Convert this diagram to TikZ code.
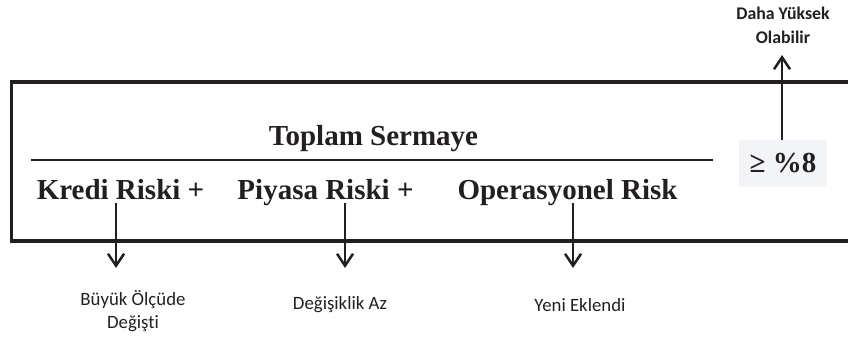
\documentclass[tikz,border=0pt]{standalone}
\usepackage{fontspec}
\setmainfont{Liberation Serif}
\newfontfamily\labelfont[Ligatures=NoCommon]{Carlito}
\usetikzlibrary{arrows.meta}
\definecolor{ink}{RGB}{35,31,32}
\definecolor{paper}{RGB}{243,244,247}
\begin{document}
\begin{tikzpicture}[x=1pt,y=-1pt,
  frame/.style={draw=ink,line width=3.8pt,line join=miter},
  rule/.style={draw=ink,line width=2.4pt},
  term/.style={font=\fontsize{29}{32}\selectfont\bfseries,text=ink,inner sep=0pt,anchor=base},
  note/.style={font=\labelfont\fontsize{18.8}{23}\selectfont,text=ink,align=center,inner sep=0pt},
  tag/.style={font=\labelfont\bfseries\fontsize{17.8}{24}\selectfont,text=ink,align=center,inner sep=0pt},
  pointer/.style={draw=ink,line width=2.5pt,-{Straight Barb[length=12pt,width=16pt]}}
]
\useasboundingbox (0,0) rectangle (848,342);

% outer frame, open on the right
\draw[frame] (852,82) -- (11.5,82) -- (11.5,241) -- (852,241);

% numerator and fraction rule
\node[term] (total) at (373.5,146) {Toplam Sermaye};
\draw[rule] (31,160) -- (713,160);

% denominator terms
\node[term] (kredi) at (120.5,199) {Kredi Riski +};
\node[term] (piyasa) at (325.5,199) {Piyasa Riski +};
\node[term] (oper) at (567.5,199) {Operasyonel Risk};

% ratio
\node[fill=paper,minimum width=88pt,minimum height=47pt,inner sep=0pt,
      font=\fontsize{29}{32}\selectfont\bfseries,text=ink] (ratio) at (783,163.5) {≥ \%8};

% notes
\node[tag] (higher) at (783,25) {Daha Yüksek\\Olabilir};
\node[note] (knote) at (133,311.5) {Büyük Ölçüde\\Değişti};
\node[note] (pnote) at (340,305) {Değişiklik Az};
\node[note] (onote) at (580,305) {Yeni Eklendi};

% arrow ends
\coordinate (uptip) at (782,55);
\coordinate (kstart) at (116,203);
\coordinate (ktip) at (116,268);
\coordinate (pstart) at (345,203);
\coordinate (ptip) at (345,268);
\coordinate (ostart) at (573,203);
\coordinate (otip) at (573,268);

\draw[pointer] (ratio.north -| uptip) -- (uptip);
\draw[pointer] (kstart) -- (ktip);
\draw[pointer] (pstart) -- (ptip);
\draw[pointer] (ostart) -- (otip);
\end{tikzpicture}
\end{document}
